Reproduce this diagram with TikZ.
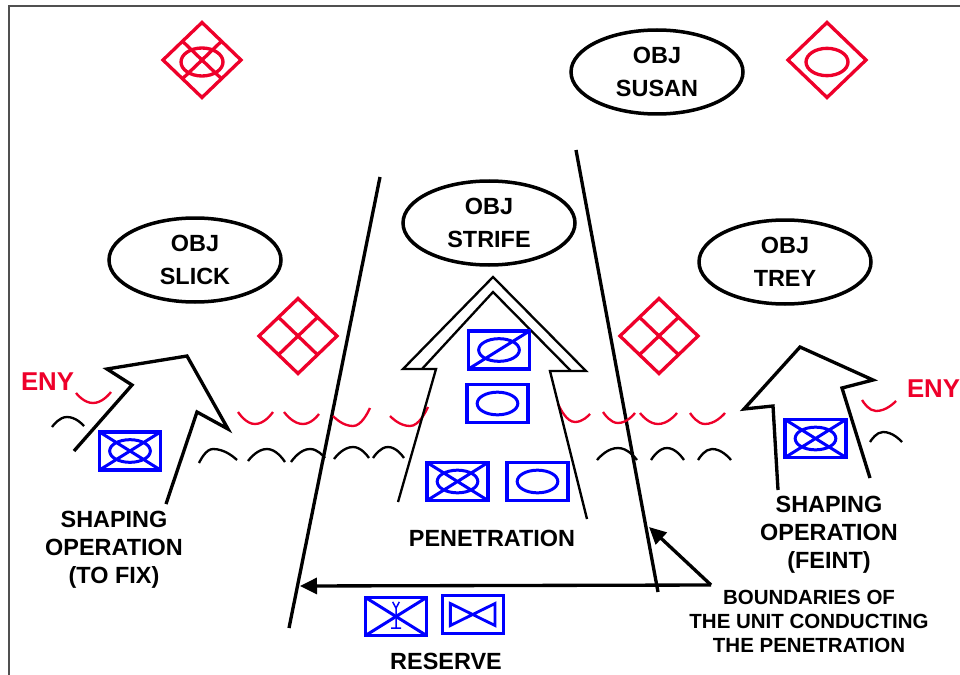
\documentclass[tikz,border=0pt]{standalone}
\usepackage{fontspec}
\setmainfont{Liberation Sans}
\usetikzlibrary{arrows.meta,positioning,calc,shapes.geometric}

\definecolor{enyred}{RGB}{238,0,42}
\definecolor{unitblue}{RGB}{0,0,255}
\definecolor{framegray}{RGB}{80,80,80}

\begin{document}
\begin{tikzpicture}[
  x=0.3mm, y=-0.3mm,
  font=\bfseries\fontsize{20}{28}\selectfont,
  obj/.style={draw, ellipse, line width=1.05mm, inner sep=0pt, align=center,
    minimum width=51.6mm, minimum height=25.2mm},
  lbl/.style={align=center, inner sep=0pt, font=\bfseries\fontsize{20}{23.8}\selectfont},
  tgt/.style={draw=enyred, diamond, line width=1mm, inner sep=0pt, outer sep=0pt,
    minimum width=23.4mm, minimum height=22.5mm},
  redln/.style={draw=enyred, line width=1mm},
  unit/.style={draw=unitblue, line width=1.15mm, inner sep=0pt,
    minimum width=18.3mm, minimum height=11.4mm},
  armd/.style={unit, path picture={
    \draw[unitblue, line width=0.9mm] (path picture bounding box.center)
      ellipse [x radius=6.1mm, y radius=3.4mm];}},
  mech/.style={unit, path picture={
    \draw[unitblue, line width=0.9mm] (path picture bounding box.center)
      ellipse [x radius=6.1mm, y radius=3.4mm]
      (path picture bounding box.south west) -- (path picture bounding box.north east)
      (path picture bounding box.north west) -- (path picture bounding box.south east);}},
  slashed/.style={unit, path picture={
    \draw[unitblue, line width=0.9mm] (path picture bounding box.center)
      ellipse [x radius=6.1mm, y radius=3.4mm]
      (path picture bounding box.south west) -- (path picture bounding box.north east);}},
  radar/.style={unit, path picture={
    \draw[unitblue, line width=0.9mm]
      (path picture bounding box.south west) -- (path picture bounding box.north east)
      (path picture bounding box.north west) -- (path picture bounding box.south east);
    \draw[unitblue, line width=0.45mm, shift={(path picture bounding box.center)}]
      (-1mm,4.4mm) -- (0mm,2.5mm) -- (1mm,4.4mm) (0mm,2.5mm) -- (0mm,-3.5mm)
      (-1.5mm,-3.5mm) -- (1.5mm,-3.5mm);}},
  bowtie/.style={unit, path picture={
    \draw[unitblue, line width=0.85mm, shift={(path picture bounding box.center)}]
      (-6.8mm,3.3mm) -- (-6.8mm,-3.3mm) -- (6.6mm,3.3mm) -- (6.6mm,-3.3mm) -- cycle;}},
  bline/.style={line width=1mm},
  shp/.style={line width=1mm},
  pen/.style={line width=0.7mm},
  eny/.style={enyred, line width=0.7mm},
  fr/.style={black, line width=0.7mm},
  arr/.style={-{Triangle[length=5.1mm, width=4.8mm]}, line width=1mm}
]
\useasboundingbox (0,0) rectangle (960,675);
\draw[framegray, line width=0.65mm] (9,675) -- (9,6) -- (960,6);

% objectives
\node[obj] (susan) at (657,72) {OBJ\\SUSAN};
\node[obj] (strife) at (489,223) {OBJ\\STRIFE};
\node[obj] (slick) at (195,260) {OBJ\\SLICK};
\node[obj] (trey) at (785,262) {OBJ\\TREY};

% enemy targets
\node[tgt] (tgtTL) at (202,60) {};
\node[tgt] (tgtTR) at (827,60) {};
\node[tgt] (tgtL) at (298,336) {};
\node[tgt] (tgtR) at (659,336) {};
\draw[redln] (202,62) ellipse [x radius=6.3mm, y radius=4.2mm];
\draw[redln] (827,62) ellipse [x radius=6.3mm, y radius=4.1mm];
\foreach \d in {tgtTL, tgtL, tgtR} {
  \draw[redln] ($(\d.north)!.5!(\d.west)$) -- ($(\d.south)!.5!(\d.east)$);
  \draw[redln] ($(\d.north)!.5!(\d.east)$) -- ($(\d.south)!.5!(\d.west)$);
}

% boundaries
\coordinate (lbtop) at (380,177);
\coordinate (lbbot) at (289,628);
\coordinate (rbtop) at (576,150);
\coordinate (rbbot) at (658,592);
\draw[bline] (lbtop) -- (lbbot);
\draw[bline] (rbtop) -- (rbbot);

% enemy line
\draw[eny] (76,393) parabola bend (93,403) (111,392);
\draw[eny] (238,412) parabola bend (255,424) (273,412);
\draw[eny] (284,412) parabola bend (303,424) (319,414);
\draw[eny] (333,416) parabola bend (353,426) (370,408);
\draw[eny] (390,416) parabola bend (410,426) (428,407);
\draw[eny] (558,404) parabola bend (575,422) (590,414);
\draw[eny] (603,412) parabola bend (618,423) (635,413);
\draw[eny] (640,413) parabola bend (658,424) (677,413);
\draw[eny] (690,413) parabola bend (705,424) (725,413);
\draw[eny] (862,400) parabola bend (876,411) (896,401);
\draw[fr] (52,427) parabola bend (67,417) (84,426);
\draw[fr] (199,463) parabola bend (213,449) (237,460);
\draw[fr] (248,461) parabola bend (267,449) (285,462);
\draw[fr] (291,462) parabola bend (310,449) (325,458);
\draw[fr] (334,459) parabola bend (353,447) (369,458);
\draw[fr] (373,458) parabola bend (388,447) (404,458);
\draw[fr] (597,460) parabola bend (618,448) (637,460);
\draw[fr] (651,460) parabola bend (667,448) (684,460);
\draw[fr] (698,460) parabola bend (712,449) (731,460);
\draw[fr] (870,442) parabola bend (883,432) (902,442);

% maneuver arrows
\draw[pen] (398,502) -- (436,369) -- (403,369) -- (493,277) -- (586,371) -- (550,371) -- (587,519);
\draw[pen] (422,369) -- (493,292) -- (571,371);
\draw[shp] (74,451) -- (132,385) -- (107,369) -- (187,356) -- (228,429) -- (197,412) -- (166,504);
\draw[shp] (778,490) -- (773,406) -- (744,409) -- (800,347) -- (873,380) -- (842,388) -- (870,478);

% units
\node[mech] (fixunit) at (130,451) {};
\node[mech] (feintunit) at (815.5,438.5) {};
\node[slashed] (penA) at (499,350) {};
\node[armd] (penB) at (497.5,403.5) {};
\node[mech] (penC) at (457.5,481.5) {};
\node[armd] (penD) at (537.5,481.5) {};
\node[radar] (resA) at (396,616.5) {};
\node[bowtie] (resB) at (473,614.5) {};

% labels
\node[lbl] (fixlbl) at (114,550) {SHAPING\\OPERATION\\(TO FIX)};
\node[lbl] (feintlbl) at (829,535) {SHAPING\\OPERATION\\(FEINT)};
\node[lbl] (penlbl) at (492,538.6) {PENETRATION};
\node[lbl] (reslbl) at (446,661.5) {RESERVE};
\node[lbl, font=\bfseries\fontsize{17.5}{20.4}\selectfont] (bndlbl) at (809,621.7)
  {BOUNDARIES OF\\THE UNIT CONDUCTING\\THE PENETRATION};
\node[lbl, text=enyred, font=\bfseries\fontsize{22}{26}\selectfont] (enyW) at (47.5,381.7) {ENY};
\node[lbl, text=enyred, font=\bfseries\fontsize{22}{26}\selectfont] (enyE) at (933.5,388.7) {ENY};

\coordinate (bnd) at (711,585);
\coordinate (lbhit) at (300,586);
\coordinate (rbhit) at (649,527);
\draw[arr] (bnd) -- (lbhit);
\draw[arr] (bnd) -- (rbhit);
\end{tikzpicture}
\end{document}
